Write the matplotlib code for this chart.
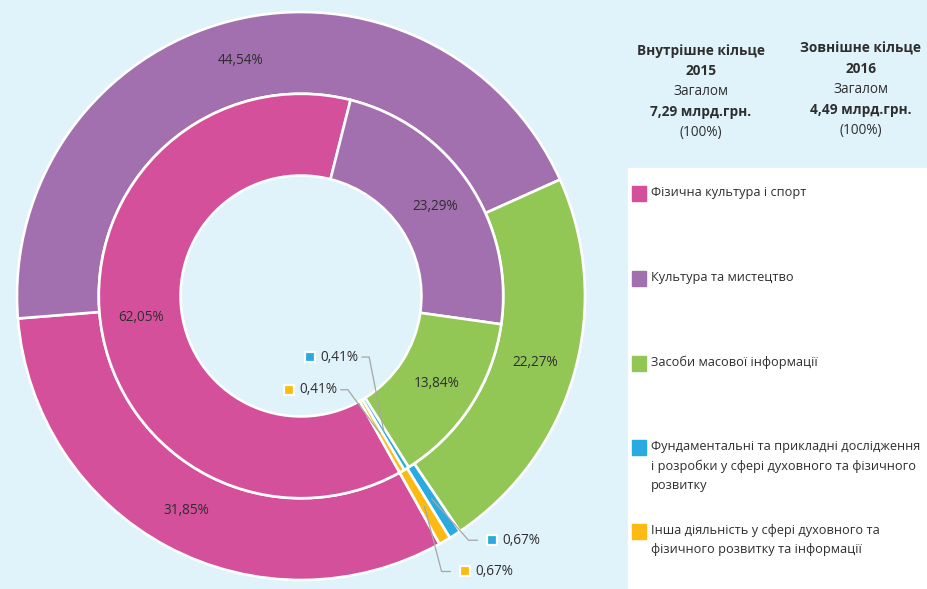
import numpy as np
import matplotlib

matplotlib.use("Agg")
import matplotlib.pyplot as plt
from matplotlib.patches import Rectangle

plt.rcParams["font.family"] = ["Open Sans", "DejaVu Sans"]

# ---- data -----------------------------------------------------------------
categories = [
    "Фізична культура і спорт",
    "Культура та мистецтво",
    "Засоби масової інформації",
    "Фундаментальні та прикладні дослідження\nі розробки у сфері духовного та фізичного\nрозвитку",
    "Інша діяльність у сфері духовного та\nфізичного розвитку та інформації",
]
inner_2015 = [62.05, 23.29, 13.84, 0.41, 0.41]
outer_2016 = [31.85, 44.54, 22.27, 0.67, 0.67]
colors = ["#D5509B", "#A270AF", "#93C755", "#29ABE2", "#FDBA13"]

headers = [
    ("Внутрішне кільце", "2015", "7,29 млрд.грн."),
    ("Зовнішне кільце", "2016", "4,49 млрд.грн."),
]

BG = "#E0F2FA"
INK = "#2E2E2E"
W, H = 928, 589

fig = plt.figure(figsize=(W / 100, H / 100), dpi=100, facecolor=BG)

# white legend panel
fig.patches.append(Rectangle((628 / W, 0), 1 - 628 / W, (H - 168) / H,
                             transform=fig.transFigure, color="white", zorder=0))

# ---- donut ----------------------------------------------------------------
cx, cy, R = 301, 296, 284
ax = fig.add_axes([(cx - R) / W, (H - cy - R) / H, 2 * R / W, 2 * R / H])
ax.set_facecolor("none")
ring_w = 0.288
start = -60.8
wp = dict(edgecolor="white", linewidth=1.9)

outer, _ = ax.pie(outer_2016, radius=1.0, colors=colors, startangle=start,
                  counterclock=False, wedgeprops=dict(width=ring_w, **wp))
inner, _ = ax.pie(inner_2015, radius=1.0 - ring_w, colors=colors, startangle=start,
                  counterclock=False, wedgeprops=dict(width=ring_w, **wp))
ax.set_xlim(-1, 1)
ax.set_ylim(-1, 1)
ax.set_aspect("auto")
ax.axis("off")


def mid(w):
    a = np.deg2rad((w.theta1 + w.theta2) / 2)
    return np.cos(a), np.sin(a)


def fmt(v):
    return f"{v:.2f}%".replace(".", ",")


FS = 9.8
# big labels at ring centre
for wedges, vals, r in ((outer, outer_2016, 1 - ring_w / 2),
                        (inner, inner_2015, 1 - ring_w * 1.5)):
    for w, v in zip(wedges[:3], vals[:3]):
        c, s = mid(w)
        ax.text(r * c, r * s, fmt(v), ha="center", va="center",
                fontsize=FS, color=INK)

# small slices: (wedge, value, colour, label pos, elbow x, radius of target)
small = [
    (inner[3], inner_2015[3], colors[3], (0.032, -0.215), 0.24, 0.56),
    (inner[4], inner_2015[4], colors[4], (-0.042, -0.33), 0.165, 0.56),
    (outer[3], outer_2016[3], colors[3], (0.674, -0.86), 0.59, 0.85),
    (outer[4], outer_2016[4], colors[4], (0.579, -0.97), 0.495, 0.86),
]
for w, v, col, (lx, ly), ex, rt in small:
    c, s = mid(w)
    tx, ty = rt * c, rt * s
    if lx > 0.3:
        ax.plot([lx - 0.053, ex, tx], [ly, ly, ty], color="#A6A6A6", lw=0.9,
                zorder=5)
    else:
        ax.plot([ex - 0.025, ex, tx], [ly, ly, ty], color="#A6A6A6", lw=0.9,
                zorder=5)
    ax.plot(lx, ly, marker="s", ms=6.5, mfc=col, mec="white", mew=1.6, zorder=6)
    ax.text(lx + 0.035, ly, fmt(v), ha="left", va="center", fontsize=FS,
            color=INK, zorder=6)

# ---- headers --------------------------------------------------------------
for x, y0, (title, year, total) in zip((701, 861), (51, 49), headers):
    fx = x / W
    rows = [(title, "bold"), (year, "bold"), ("Загалом", "normal"),
            (total, "bold"), ("(100%)", "normal")]
    for i, (txt, wt) in enumerate(rows):
        fig.text(fx, 1 - (y0 + 20.3 * i) / H, txt, ha="center", va="center",
                 fontsize=FS, fontweight=wt, color=INK)

# ---- legend ---------------------------------------------------------------
legend_y = [193, 278, 363, 447, 531]
for y, name, col in zip(legend_y, categories, colors):
    fig.patches.append(Rectangle((632 / W, 1 - (y + 7.5) / H), 14.5 / W, 14.5 / H,
                                 transform=fig.transFigure, color=col))
    fig.text(651 / W, 1 - (y - 7) / H, name, ha="left", va="top", fontsize=9.2,
             color=INK, linespacing=1.6)

fig.savefig("out.png", dpi=100, facecolor=BG)
